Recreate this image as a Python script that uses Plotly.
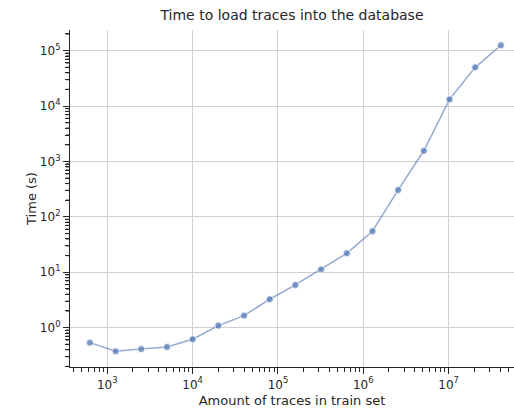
import math
import plotly.graph_objects as go

traces = [625, 1250, 2500, 5000, 10000, 20000, 40000, 80000, 160000, 320000,
          640000, 1280000, 2560000, 5120000, 10240000, 20480000, 40960000]
times = [0.537, 0.374, 0.41, 0.449, 0.617, 1.09, 1.65, 3.26, 5.9, 11.2,
         22, 55, 306, 1560, 13200, 50000, 125000]
x_exps = [3, 4, 5, 6, 7]
y_exps = [0, 1, 2, 3, 4, 5]

x_major = [10 ** e for e in x_exps]
x_text = ["10<sup>%d</sup>" % e for e in x_exps]
y_major = [10 ** e for e in y_exps]
y_text = ["10<sup>%d</sup>" % e for e in y_exps]

XR = [2.563, 7.766]
YR = [-0.71, 5.373]
y_minor = [m * 10 ** e for e in range(-1, 6) for m in range(2, 10)
           if YR[0] < math.log10(m * 10 ** e) < YR[1]]

W, H = 514, 414
ML, MR, MT, MB = 70, 0, 30, 47

fig = go.Figure()
fig.add_trace(go.Scatter(
    x=traces, y=times, mode="lines+markers",
    line=dict(color="rgba(76,114,176,0.6)", width=1.5),
    marker=dict(color="rgba(76,114,176,0.7)", size=7,
                line=dict(color="rgba(255,255,255,0.7)", width=1)),
    showlegend=False,
))

font = "DejaVu Sans"
axis_common = dict(
    type="log",
    showgrid=True, gridcolor="#d0d0d0", gridwidth=1,
    showline=True, linecolor="#262626", linewidth=1.25,
    ticks="outside", ticklen=6, tickwidth=1.25, tickcolor="#262626",
    tickfont=dict(family=font, size=12, color="#262626"),
    zeroline=False, tickmode="array",
)

fig.update_xaxes(**axis_common, range=XR,
                 tickvals=x_major, ticktext=x_text,
                 minor=dict(dtick="D1", ticks="outside", ticklen=3.5,
                            tickwidth=1, tickcolor="#262626", showgrid=False),
                 title=dict(text="Amount of traces in train set",
                            font=dict(family=font, size=13, color="#262626"), standoff=5))
fig.update_yaxes(**axis_common, range=YR,
                 tickvals=y_major, ticktext=y_text,
                 minor=dict(tickmode="array", tickvals=y_minor, ticks="outside", ticklen=4,
                            tickwidth=1, tickcolor="#262626", showgrid=False),
                 title=dict(text="Time (s)",
                            font=dict(family=font, size=13, color="#262626"), standoff=0))

# minor ticks on the y axis, placed via the log scale of the axis range
tick_px = 4
for v in y_minor:
    yf = (math.log10(v) - YR[0]) / (YR[1] - YR[0])
    fig.add_shape(type="line", xref="paper", yref="paper", xsizemode="pixel",
                  xanchor=0, x0=-tick_px, x1=0, y0=yf, y1=yf,
                  line=dict(color="#262626", width=1.2), layer="above")

fig.update_layout(
    width=W, height=H,
    margin=dict(l=ML, r=MR, t=MT, b=MB),
    paper_bgcolor="white", plot_bgcolor="white",
    title=dict(text="Time to load traces into the database",
               font=dict(family=font, size=14, color="#262626"),
               x=0.5, xanchor="center", xref="paper", y=1, yref="container", yanchor="top", pad=dict(t=10)),
)

fig.write_html("out.html")
